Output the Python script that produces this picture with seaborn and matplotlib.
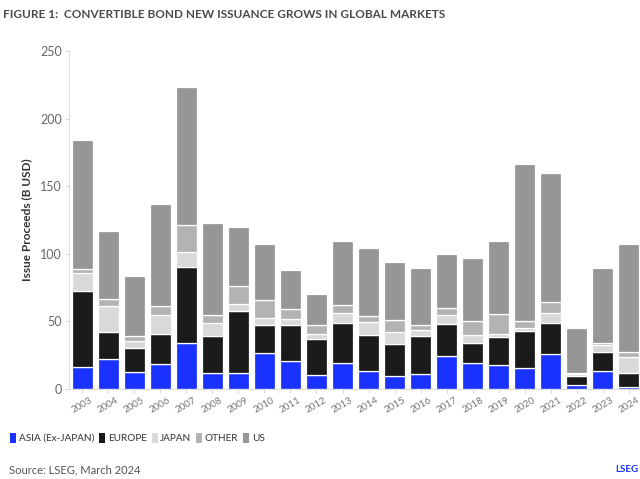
import pandas as pd
import matplotlib.pyplot as plt
import seaborn as sns
from matplotlib.patches import Patch

# Data (B USD)
years = [str(y) for y in range(2003, 2025)]
asia = [16.5, 22, 12.5, 18.5, 34, 11.5, 12, 26.5, 20.5, 10, 19, 13.5, 9.5, 11, 24.5, 19.5, 17.5, 15.5, 26, 3, 13.5, 1.5]
europe = [56, 20, 18, 22.5, 56, 28, 46, 21, 26.5, 27, 29.5, 26.5, 24, 28, 23.5, 14.5, 21, 27.5, 22.5, 6.5, 14, 10]
japan = [13, 19, 5, 14, 11, 9.5, 5, 5, 5, 4, 7.5, 9.5, 8.5, 4.5, 7, 6, 2, 2, 8, 1.2, 5, 12.5]
other = [3.5, 5.5, 4, 6.5, 20.5, 5.5, 13, 13, 7, 6.5, 6, 4.5, 9, 4, 5, 10, 15, 5.5, 7.5, 1.2, 1.3, 3.5]
us = [95.5, 50.5, 44, 75, 102, 68, 43.5, 41.5, 29, 23, 47.5, 50, 43, 42, 40, 47, 54, 116, 96, 33.5, 56, 80]

series = ["ASIA (Ex-JAPAN)", "EUROPE", "JAPAN", "OTHER", "US"]
colors = ["#1a32ff", "#1a1a1a", "#d9d9d9", "#b3b3b3", "#969696"]

df = pd.DataFrame({"year": years, "ASIA (Ex-JAPAN)": asia, "EUROPE": europe,
                   "JAPAN": japan, "OTHER": other, "US": us})

sns.set_theme(style="white")
plt.rcParams['font.family'] = ['Lato', 'DejaVu Sans']

fig = plt.figure(figsize=(6.4, 4.79), dpi=100)
ax = fig.add_axes([0.108, 0.188, 0.895, 0.7056])

# stacked bars, one seaborn layer per region
bottom = pd.Series(0.0, index=df.index)
for name, col in zip(series, colors):
    sns.barplot(data=df, x="year", y=name, bottom=bottom, color=col, ax=ax,
                width=0.8, edgecolor="white", linewidth=0.9, saturation=1)
    bottom = bottom + df[name]

ax.set_ylim(0, 250)
ax.set_xlim(-0.5, len(years) - 0.5)
ax.set_yticks(range(0, 251, 50))
ax.set_xlabel("")
ax.set_ylabel("Issue Proceeds (B USD)", fontsize=8.5, fontweight="bold", color="#333333", labelpad=6)

ax.tick_params(axis="y", labelsize=9, length=3, width=0.6, left=True, pad=2, color="#cccccc")
ax.tick_params(axis="x", labelsize=7, length=3, width=0.6, bottom=True, pad=2, color="#cccccc")
plt.setp(ax.get_xticklabels(), rotation=30, ha="center", color="#777777")
for lab in ax.get_yticklabels():
    lab.set_color("#666666")

sns.despine(ax=ax, top=True, right=True)
for s in ["left", "bottom"]:
    ax.spines[s].set_color("#dddddd")
    ax.spines[s].set_linewidth(0.8)

fig.text(0.005, 0.982, "FIGURE 1:  CONVERTIBLE BOND NEW ISSUANCE GROWS IN GLOBAL MARKETS",
         fontsize=8.5, fontweight="bold", color="#4a4a4a", va="top", ha="left")

handles = [Patch(facecolor=c, edgecolor="none", label=n) for n, c in zip(series, colors)]
fig.legend(handles=handles, loc="center left", bbox_to_anchor=(0.002, 0.086), ncol=5,
           frameon=False, fontsize=7.2, handlelength=0.6, handleheight=1.2,
           handletextpad=0.25, columnspacing=0.5, labelcolor="#333333")

fig.text(0.014, 0.007, "Source: LSEG, March 2024", fontsize=8, color="#555555", ha="left", va="bottom")
fig.text(0.998, 0.01, "LSEG", fontsize=7, color="#1a32ff", fontweight="bold", ha="right", va="bottom")

fig.savefig("out.png", dpi=100)
plt.close(fig)
